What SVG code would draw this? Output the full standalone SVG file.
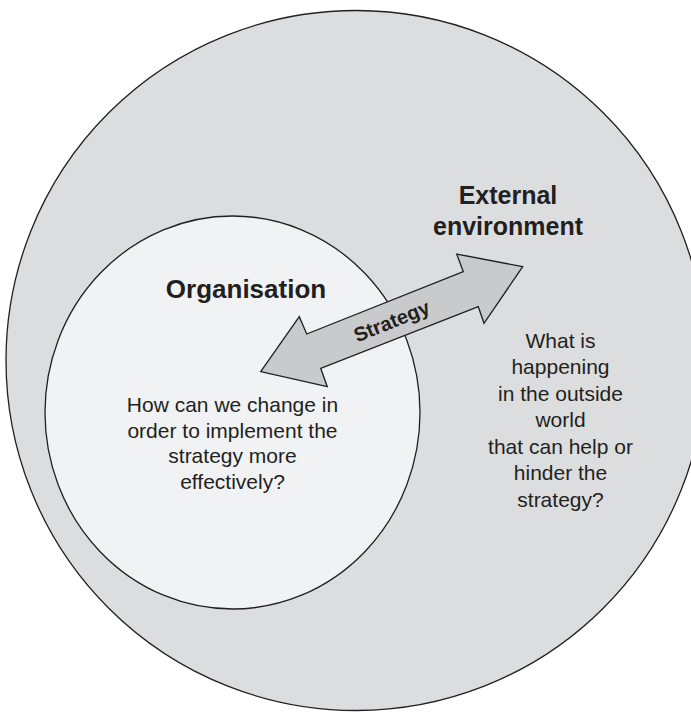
<svg xmlns="http://www.w3.org/2000/svg" width="691" height="712" viewBox="0 0 691 712">
<style>
.ln{stroke:#231f20;stroke-width:1.3;}
.h{font-family:"Liberation Sans",Arial,sans-serif;font-weight:bold;fill:#231f20;text-anchor:middle;}
.b{font-family:"Liberation Sans",Arial,sans-serif;fill:#231f20;text-anchor:middle;font-size:21px;}
</style>
<rect width="691" height="712" fill="#ffffff"/>
<g id="external">
<circle class="ln" cx="356" cy="360.5" r="350" fill="#dcdddf"/>
<text class="h" x="508" y="204" font-size="25">External</text>
<text class="h" x="508" y="235" font-size="25">environment</text>
<text class="b" x="560.5" y="347.5">What is</text>
<text class="b" x="560.5" y="374">happening</text>
<text class="b" x="560.5" y="400.6">in the outside</text>
<text class="b" x="560.5" y="427.2">world</text>
<text class="b" x="560.5" y="453.8">that can help or</text>
<text class="b" x="560.5" y="480.4">hinder the</text>
<text class="b" x="560.5" y="507">strategy?</text>
</g>
<g id="organisation">
<ellipse class="ln" cx="232.5" cy="412.5" rx="187.5" ry="196.5" fill="#f1f2f4"/>
<text class="h" x="246" y="298" font-size="26">Organisation</text>
<text class="b" x="232.5" y="411.7">How can we change in</text>
<text class="b" x="232.5" y="437.5">order to implement the</text>
<text class="b" x="232.5" y="463.4">strategy more</text>
<text class="b" x="232.5" y="489.3">effectively?</text>
</g>
<g id="connectors">
<g id="strategy">
<polygon class="ln" stroke-width="1.2" stroke-linejoin="miter" fill="#c9cacc" points="522.7,266.7 456.7,254 463.3,271.7 306.7,334 299.3,316.7 260.7,371.7 327.3,386.7 320.7,368.3 478.3,306.7 484,323.3"/>
<text class="h" font-size="20" transform="translate(392,322) rotate(-22)" x="0" y="6">Strategy</text>
</g>
</g>
</svg>
